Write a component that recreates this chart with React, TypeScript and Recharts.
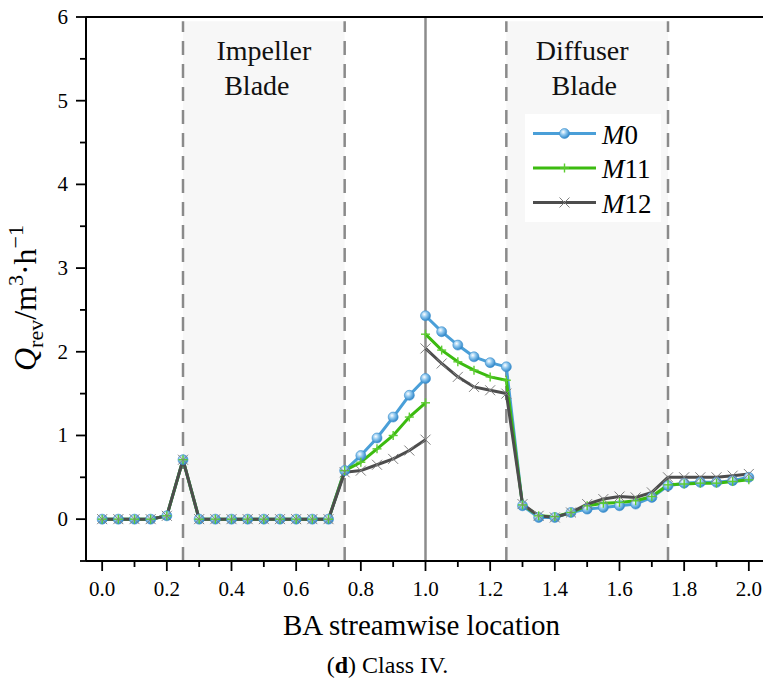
import React from 'react';
import { LineChart, Line, XAxis, YAxis, ReferenceArea, ReferenceLine, Legend } from 'recharts';

const FONT = "'Liberation Serif', 'Times New Roman', Times, serif";

// BA streamwise locations (1.0 appears three times: value just before the interface,
// a break in the curve, value just after the interface)
const xLocations = [
  0, 0.05, 0.1, 0.15, 0.2, 0.25, 0.3, 0.35, 0.4, 0.45, 0.5, 0.55, 0.6, 0.65, 0.7,
  0.75, 0.8, 0.85, 0.9, 0.95, 1.0, 1.0, 1.0, 1.05, 1.1, 1.15, 1.2, 1.25,
  1.3, 1.35, 1.4, 1.45, 1.5, 1.55, 1.6, 1.65, 1.7, 1.75, 1.8, 1.85, 1.9, 1.95, 2.0,
];

const m0Values = [
  0, 0, 0, 0, 0.04, 0.71, 0, 0, 0, 0, 0, 0, 0, 0, 0,
  0.58, 0.76, 0.97, 1.22, 1.48, 1.68, null, 2.43, 2.24, 2.08, 1.94, 1.87, 1.82,
  0.16, 0.02, 0.02, 0.08, 0.12, 0.14, 0.16, 0.18, 0.26, 0.40, 0.43, 0.44, 0.44, 0.46, 0.50,
];

const m11Values = [
  0, 0, 0, 0, 0.04, 0.71, 0, 0, 0, 0, 0, 0, 0, 0, 0,
  0.58, 0.68, 0.84, 1.0, 1.22, 1.39, null, 2.21, 2.02, 1.88, 1.78, 1.7, 1.66,
  0.17, 0.04, 0.03, 0.08, 0.16, 0.19, 0.2, 0.22, 0.27, 0.41, 0.42, 0.43, 0.43, 0.45, 0.47,
];

const m12Values = [
  0, 0, 0, 0, 0.04, 0.71, 0, 0, 0, 0, 0, 0, 0, 0, 0,
  0.56, 0.58, 0.65, 0.72, 0.82, 0.95, null, 2.04, 1.86, 1.7, 1.58, 1.54, 1.5,
  0.18, 0.04, 0.02, 0.08, 0.18, 0.24, 0.27, 0.26, 0.32, 0.5, 0.5, 0.5, 0.5, 0.52, 0.54,
];

const xTicks = [0, 0.1, 0.2, 0.3, 0.4, 0.5, 0.6, 0.7, 0.8, 0.9, 1.0, 1.1, 1.2, 1.3, 1.4, 1.5, 1.6, 1.7, 1.8, 1.9, 2.0];
const yTicks = [-0.5, 0, 0.5, 1, 1.5, 2, 2.5, 3, 3.5, 4, 4.5, 5, 5.5, 6];

const bladeRegions = [
  { x1: 0.25, x2: 0.75, lines: ['Impeller', 'Blade'], dx: [0, -7] },
  { x1: 1.25, x2: 1.75, lines: ['Diffuser', 'Blade'], dx: [-5, -3] },
];
const dashedLocations = [0.25, 0.75, 1.25, 1.75];
const interfaceLocation = 1.0;

const series = [
  { key: 'm0', num: '0', color: '#4a9fd8', marker: 'sphere' },
  { key: 'm11', num: '11', color: '#3cbb10', marker: 'plus' },
  { key: 'm12', num: '12', color: '#4d4d4d', marker: 'cross' },
];

const data = xLocations.map((x, i) => ({ x, m0: m0Values[i], m11: m11Values[i], m12: m12Values[i] }));

const drawMarker = (type: string, cx: number, cy: number, key?: any) => {
  if (type === 'sphere') {
    return <circle key={key} cx={cx} cy={cy} r={5} fill="url(#sphereGrad)" stroke="#3d8fcc" strokeWidth={0.6} />;
  }
  if (type === 'plus') {
    return (
      <g key={key}>
        <line x1={cx - 4.5} x2={cx + 4.5} y1={cy} y2={cy} stroke="#5ccc30" strokeWidth={1.4} />
        <line x1={cx} x2={cx} y1={cy - 4.5} y2={cy + 4.5} stroke="#5ccc30" strokeWidth={1.4} />
      </g>
    );
  }
  return (
    <g key={key}>
      <line x1={cx - 5} x2={cx + 5} y1={cy - 5} y2={cy + 5} stroke="#808080" strokeWidth={1} />
      <line x1={cx - 5} x2={cx + 5} y1={cy + 5} y2={cy - 5} stroke="#808080" strokeWidth={1} />
    </g>
  );
};

const makeDot = (type: string) => (props: any) => {
  const { cx, cy, index, value } = props;
  if (cx == null || cy == null || value == null || Number.isNaN(cy)) return <g key={`d-${type}-${index}`} />;
  return drawMarker(type, cx, cy, `d-${type}-${index}`);
};

const XTick = (props: any) => {
  const { x, y, payload } = props;
  const v = payload.value as number;
  const major = Math.round(v * 10) % 2 === 0;
  return (
    <g>
      <line x1={x} x2={x} y1={y} y2={y + (major ? 10 : 6)} stroke="#000" strokeWidth={1.8} />
      {major && (
        <text x={x} y={y + 35} textAnchor="middle" fontSize={21} fontFamily={FONT} fill="#000">
          {v.toFixed(1)}
        </text>
      )}
    </g>
  );
};

const YTick = (props: any) => {
  const { x, y, payload } = props;
  const v = payload.value as number;
  const major = Number.isInteger(v);
  return (
    <g>
      <line x1={x - (major ? 10 : 6)} x2={x} y1={y} y2={y} stroke="#000" strokeWidth={1.8} />
      {major && (
        <text x={x - 18} y={y + 7} textAnchor="end" fontSize={21} fontFamily={FONT} fill="#000">
          {String(v)}
        </text>
      )}
    </g>
  );
};

const YLabel = (props: any) => {
  const vb = props.viewBox || { x: 0, y: 17, width: 86, height: 544 };
  const cx = vb.x + 36;
  const cy = vb.y + vb.height / 2 + 9;
  return (
    <text
      x={cx}
      y={cy}
      transform={`rotate(-90, ${cx}, ${cy})`}
      textAnchor="middle"
      fontFamily={FONT}
      fontSize={32}
      fill="#000"
    >
      <tspan fontStyle="italic">Q</tspan>
      <tspan fontSize={22} dy={7}>rev</tspan>
      <tspan dy={-7}>/m</tspan>
      <tspan fontSize={22} dy={-13}>3</tspan>
      <tspan dy={13}>·h</tspan>
      <tspan fontSize={22} dy={-13}>−1</tspan>
    </text>
  );
};

const XLabel = (props: any) => {
  const vb = props.viewBox || { x: 86, y: 561, width: 679, height: 123 };
  const mid = vb.x + vb.width / 2;
  return (
    <g>
      <text x={mid - 4} y={vb.y + 74} textAnchor="middle" fontFamily={FONT} fontSize={29} fill="#000">
        BA streamwise location
      </text>
      <text x={mid - 38} y={vb.y + 112} textAnchor="middle" fontFamily={FONT} fontSize={24} fill="#000">
        (<tspan fontWeight="bold">d</tspan>) Class IV.
      </text>
    </g>
  );
};

const regionLabel = (lines: string[], dx: number[]) => (props: any) => {
  const vb = props.viewBox;
  if (!vb) return null;
  const cx = vb.x + vb.width / 2;
  return (
    <g>
      {lines.map((t, i) => (
        <text key={i} x={cx + dx[i]} y={vb.y + 39 + i * 35} textAnchor="middle" fontFamily={FONT} fontSize={28} fill="#111">
          {t}
        </text>
      ))}
    </g>
  );
};

const renderLegend = () => (
  <svg width={136} height={108} style={{ display: 'block' }}>
    <rect x={0} y={0} width={136} height={108} fill="#ffffff" />
    {series.map((s, i) => {
      const y = 19.5 + i * 34.5;
      return (
        <g key={s.key}>
          <line x1={8} x2={71} y1={y} y2={y} stroke={s.color} strokeWidth={3} />
          {drawMarker(s.marker, 39.5, y)}
          <text x={77} y={y + 10} fontFamily={FONT} fontSize={27} fill="#000">
            <tspan fontStyle="italic">M</tspan>
            {s.num}
          </text>
        </g>
      );
    })}
  </svg>
);

export default function App() {
  return (
    <div style={{ position: 'absolute', left: 0, top: 0, width: 763, height: 684, overflow: 'hidden', background: '#fff' }}>
      <LineChart width={765} height={684} data={data} margin={{ top: 17, right: 0, bottom: 0, left: 0 }}>
        <defs>
          <radialGradient id="sphereGrad" cx="38%" cy="35%" r="65%">
            <stop offset="0%" stopColor="#ffffff" />
            <stop offset="45%" stopColor="#8cc6ee" />
            <stop offset="100%" stopColor="#2f86c8" />
          </radialGradient>
        </defs>
        {bladeRegions.map((r) => (
          <ReferenceArea
            key={r.x1}
            x1={r.x1}
            x2={r.x2}
            y1={-0.5}
            y2={5.95}
            fill="#f7f7f7"
            fillOpacity={1}
            stroke="none"
            label={regionLabel(r.lines, r.dx)}
          />
        ))}
        {dashedLocations.map((x) => (
          <ReferenceLine
            key={x}
            segment={[{ x, y: -0.5 }, { x, y: 5.95 }]}
            stroke="#8a8a8a"
            strokeWidth={2.5}
            strokeDasharray="14 9"
          />
        ))}
        <ReferenceLine x={interfaceLocation} stroke="#8c8c8c" strokeWidth={2.5} />
        <ReferenceLine y={6} stroke="#000" strokeWidth={2} />
        <XAxis
          dataKey="x"
          type="number"
          domain={[-0.05, 2.05]}
          ticks={xTicks}
          interval={0}
          allowDataOverflow
          height={123}
          tickSize={0}
          tickMargin={0}
          tickLine={false}
          axisLine={{ stroke: '#000', strokeWidth: 2 }}
          tick={<XTick />}
          label={XLabel}
        />
        <YAxis
          type="number"
          domain={[-0.5, 6]}
          ticks={yTicks}
          interval={0}
          allowDataOverflow
          width={86}
          tickSize={0}
          tickMargin={0}
          tickLine={false}
          axisLine={{ stroke: '#000', strokeWidth: 2 }}
          tick={<YTick />}
          label={YLabel}
        />
        {series.map((s) => (
          <Line
            key={s.key}
            dataKey={s.key}
            type="linear"
            stroke={s.color}
            strokeWidth={3}
            dot={makeDot(s.marker)}
            activeDot={false}
            connectNulls={false}
            isAnimationActive={false}
          />
        ))}
        <Legend
          layout="vertical"
          align="center"
          verticalAlign="middle"
          content={renderLegend}
          wrapperStyle={{ left: 525, top: 114, width: 136, height: 108 }}
        />
      </LineChart>
    </div>
  );
}
